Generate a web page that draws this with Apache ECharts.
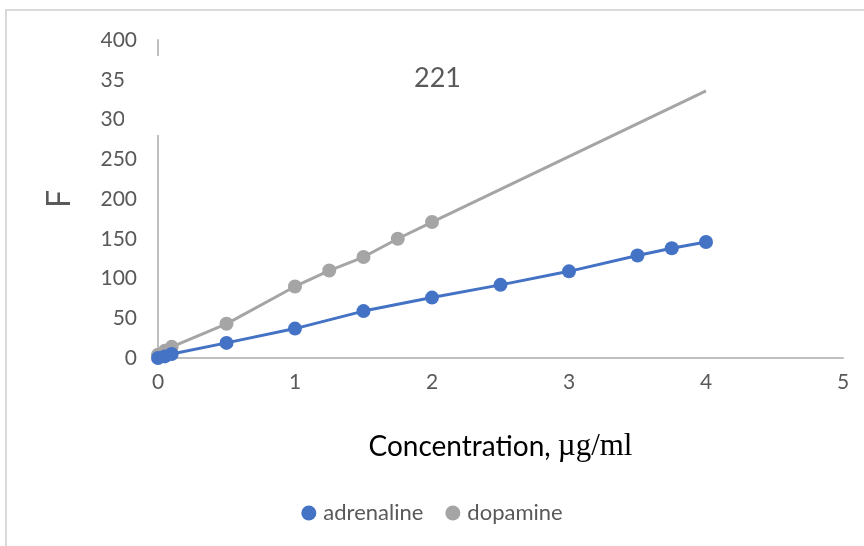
<!DOCTYPE html>
<html>
<head>
<meta charset="utf-8">
<script src="https://cdn.jsdelivr.net/npm/echarts@6/dist/echarts.min.js"></script>
<style>html,body{margin:0;padding:0;background:#fff;}#c{width:864px;height:546px;}</style>
</head>
<body>
<div id="c"></div>
<script>
var adrenalineX = [0, 0.05, 0.1, 0.5, 1, 1.5, 2, 2.5, 3, 3.5, 3.75, 4];
var adrenalineY = [0, 2, 5, 19, 37, 59, 76, 92, 109, 129, 138, 146];
var dopamineX = [0, 0.05, 0.1, 0.5, 1, 1.25, 1.5, 1.75, 2, 4];
var dopamineY = [4, 9, 14, 43, 90, 110, 127, 150, 171, 336];
var dopamineMarked = [true, true, true, true, true, true, true, true, true, false];
var yTicks = {min: 0, max: 400, interval: 50};
var xTicks = {min: 0, max: 5, interval: 1};
var titleText = '221';
var yName = 'F';

var chart = echarts.init(document.getElementById('c'), null, {renderer: 'canvas'});
var font = 'Lato, "Open Sans", sans-serif';
var grey = '#595959';

var adrData = adrenalineX.map(function (x, i) { return [x, adrenalineY[i]]; });
var dopData = dopamineX.map(function (x, i) {
  var d = {value: [x, dopamineY[i]]};
  if (!dopamineMarked[i]) d.symbol = 'none';
  return d;
});

chart.setOption({
  backgroundColor: '#fff',
  animation: false,
  title: {
    text: titleText, left: 409, top: 60,
    textStyle: {fontFamily: font, fontSize: 27, fontWeight: 'normal', color: grey}
  },
  grid: {left: 158, right: 21, top: 40, bottom: 188},
  legend: {
    data: ['adrenaline', 'dopamine'],
    bottom: 17, left: 'center',
    icon: 'circle', itemWidth: 15, itemHeight: 15, itemGap: 22,
    textStyle: {fontFamily: font, fontSize: 22, color: grey, padding: [0, 0, 0, 2]}
  },
  xAxis: {
    type: 'value', min: xTicks.min, max: xTicks.max, interval: xTicks.interval,
    name: '{a|Concentration, }{b|µg/ml}', nameLocation: 'middle', nameGap: 73,
    nameTextStyle: {rich: {
      a: {fontFamily: font, fontSize: 28, color: '#000'},
      b: {fontFamily: '"Liberation Serif", "DejaVu Serif", serif', fontSize: 31, color: '#000'}
    }},
    axisLine: {show: true, lineStyle: {color: '#bfbfbf', width: 2}},
    axisTick: {show: false},
    splitLine: {show: false},
    axisLabel: {fontFamily: font, fontSize: 21, color: grey, margin: 14}
  },
  yAxis: {
    type: 'value', min: yTicks.min, max: yTicks.max, interval: yTicks.interval,
    name: yName, nameLocation: 'middle', nameGap: 82, nameRotate: 90,
    nameTextStyle: {fontFamily: font, fontSize: 32, color: grey},
    axisLine: {show: true, lineStyle: {color: '#bfbfbf', width: 2}},
    axisTick: {show: false},
    splitLine: {show: false},
    axisLabel: {fontFamily: font, fontSize: 21, color: grey, margin: 21}
  },
  series: [
    {
      name: 'adrenaline', type: 'line', data: adrData,
      symbol: 'circle', symbolSize: 14,
      itemStyle: {color: '#4472C4'},
      lineStyle: {color: '#4472C4', width: 3}, z: 3
    },
    {
      name: 'dopamine', type: 'line', data: dopData,
      symbol: 'circle', symbolSize: 14,
      itemStyle: {color: '#A5A5A5'},
      lineStyle: {color: '#A5A5A5', width: 3}, z: 2
    }
  ],
  graphic: [
    {type: 'rect', shape: {x: 6, y: 10, width: 900, height: 560},
     style: {fill: 'none', stroke: '#d9d9d9', lineWidth: 2}, z: 100, silent: true},
    {type: 'rect', shape: {x: 124, y: 56, width: 285, height: 79},
     style: {fill: '#fff'}, z: 100, silent: true}
  ]
});
</script>
</body>
</html>
